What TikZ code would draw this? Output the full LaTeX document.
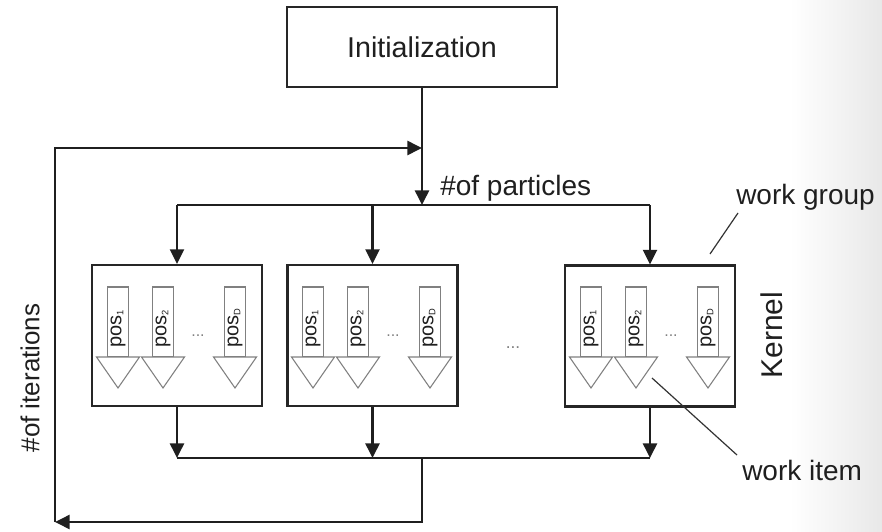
\documentclass[tikz,border=0pt]{standalone}
\usepackage{fontspec}
\setmainfont{Liberation Sans}
\usetikzlibrary{arrows.meta,calc}
\begin{document}
\begin{tikzpicture}[x=0.75pt,y=-0.75pt,
 line/.style={draw=black!88, line width=1.9pt},
 arr/.style={line, -{Triangle[length=11pt,width=10.5pt]}},
 box/.style={draw=black!85, line width=1.6pt, fill=white, minimum width=127.5pt, minimum height=105.75pt, inner sep=0pt},
 initbox/.style={box, minimum width=202.5pt, minimum height=60pt, font=\fontsize{21.5}{24}\selectfont, text=black!88},
 posrect/.style={draw=gray, line width=0.8pt, fill=white, minimum width=15.75pt, minimum height=52.5pt, inner sep=0pt},
 postext/.style={rotate=90, anchor=west, font=\fontsize{15}{17}\selectfont, text=black!88, inner sep=0pt},
 tri/.style={draw=gray, line width=0.8pt, fill=white},
 lbl/.style={font=\fontsize{21}{24}\selectfont, text=black!88, inner sep=0pt},
 dotsst/.style={font=\fontsize{12}{14}\selectfont, text=gray, inner sep=0pt},
 lead/.style={draw=black!80, line width=0.9pt}]
\useasboundingbox (0,0) rectangle (882,532);
\fill[white] (0,0) rectangle (882,532);
\shade[left color=white, right color=black!9] (790,0) rectangle (882,532);

% main blocks
\node[initbox] (init) at (422,47) {Initialization};
\node[box] (k1) at (177,335.5) {};
\node[box] (k2) at (372.5,335.5) {};
\node[box] (k3) at (650,336) {};

% work items
\foreach \k/\x in {k1/92, k2/287, k3/565} {
  \foreach \i/\o/\s in {1/26/1, 2/71/2, 3/143/D} {
    \node[posrect] (\k r\i) at (\x+\o,322) {};
    \draw[tri] (\x+\o-21.5,357) -- (\x+\o+21.5,357) -- (\x+\o,388) -- cycle;
    \node[postext] (\k t\i) at (\x+\o,348) {pos{\fontsize{10}{12}\selectfont\textsubscript{\s}}};
  }
  \node[dotsst] (\k dots) at (\x+106,336) {...};
}

% distribution
\coordinate (top) at (422,148);
\coordinate (dj) at (422,205);
\coordinate (d1) at (177,205);
\coordinate (d3) at (650,205);
\draw[line] (d1) -- (d3);
\draw[arr] (init.south) -- (dj);
\draw[arr] (k1.north |- d1) -- (k1.north);
\draw[arr] (k2.north |- d1) -- (k2.north);
\draw[arr] (k3.north |- d1) -- (k3.north);

% collection
\coordinate (c1) at (177,458);
\draw[arr] (k1.south) -- (k1.south |- c1);
\draw[arr] (k2.south) -- (k2.south |- c1);
\draw[arr] (k3.south) -- (k3.south |- c1);
\draw[line] (k1.south |- c1) -- (k3.south |- c1);

% feedback loop
\coordinate (cm) at (422,458);
\coordinate (bl) at (55,522);
\draw[arr] (cm) |- (bl);
\draw[arr] (bl) |- (top);

% labels
\node[lbl, anchor=west] (np) at (440,188) {\#of particles};
\node[lbl, anchor=west] (wg) at (736,197) {work group};
\node[lbl, rotate=90, font=\fontsize{22.5}{24}\selectfont] (kern) at (772,335) {Kernel};
\node[lbl, anchor=west] (wi) at (742,470) {work item};
\node[lbl, rotate=90, font=\fontsize{19.5}{22}\selectfont] (iter) at (30,378) {\#of iterations};
\node[dotsst, font=\fontsize{13}{15}\selectfont] (mdots) at (513,348) {...};

% leader lines
\coordinate (wgp) at (710,254);
\coordinate (wge) at (738,213);
\draw[lead] (wgp) -- (wge);
\coordinate (wip) at (652,378);
\coordinate (wie) at (737,455);
\draw[lead] (wip) -- (wie);
\end{tikzpicture}
\end{document}
